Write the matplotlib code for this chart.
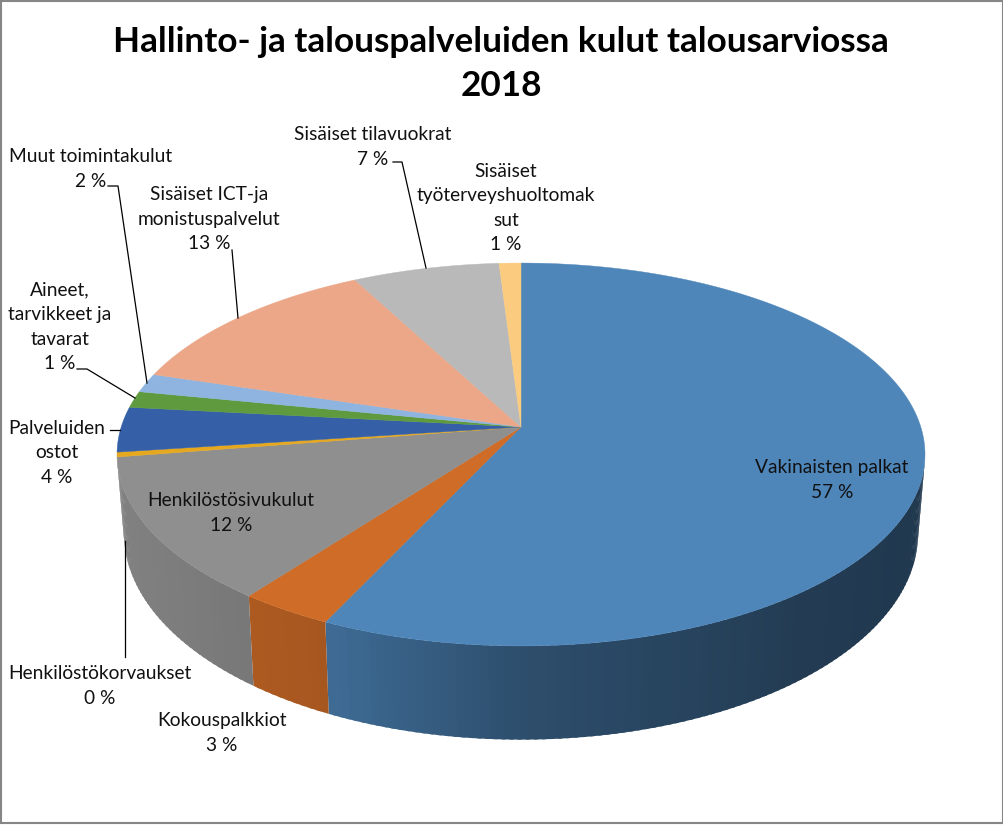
import numpy as np
import matplotlib
matplotlib.use("Agg")
import matplotlib.pyplot as plt
from matplotlib.patches import Polygon, Rectangle

plt.rcParams['font.family'] = ['Lato', 'DejaVu Sans']

categories = ["Vakinaisten palkat", "Kokouspalkkiot", "Henkilöstösivukulut",
              "Henkilöstökorvaukset", "Palveluiden\nostot", "Aineet,\ntarvikkeet ja\ntavarat",
              "Muut toimintakulut", "Sisäiset ICT-ja\nmonistuspalvelut",
              "Sisäiset tilavuokrat", "Sisäiset\ntyöterveyshuoltomak\nsut"]
values = [57.0, 3.3, 12.2, 0.4, 3.8, 1.4, 1.6, 12.55, 6.75, 1.0]
percent_labels = ["57 %", "3 %", "12 %", "0 %", "4 %", "1 %", "2 %", "13 %", "7 %", "1 %"]
colors = ["#4e86ba", "#cf6c27", "#8f8f8f", "#e5a81f", "#3560a8",
          "#5f9a3f", "#8fb4df", "#eca788", "#b9b9b9", "#fbcb80"]

# label centres in picture pixels, same order as categories
label_pos = [(832, 480), (222, 733), (231, 513), (100, 686), (57, 453),
             (60, 327), (91, 169), (209, 219), (373, 147), (506, 208)]

# leader lines
leaders = [
    [(108, 186), (118, 186), (147, 383)],
    [(232, 250), (238, 318)],
    [(77, 369), (87, 369), (135, 398)],
    [(110, 430), (120, 430)],
    [(125, 541), (125, 657)],
    [(393, 162), (402, 162), (426, 268)],
]

# pie geometry, perspective circle seen from above
CX = 521
K = 0.1436
TOP = (399.8, 187.5, 427)   # a, b, apex y
BOTTOM = (392.9, 201.8, 504)


def project(theta, plane):
    a, b, y0 = plane
    u, v = np.sin(theta), np.cos(theta)
    w = 1 + K * v
    return CX + a * u / w, y0 - b * v / w


def shade(col, f):
    rgb = np.array(matplotlib.colors.to_rgb(col))
    return tuple(rgb * f)


def wall_factor(x):
    return np.interp(x, [120, 280, 327, 521, 800, 925], [0.90, 0.82, 0.80, 0.58, 0.45, 0.42])


fig = plt.figure(figsize=(10.04, 8.25), dpi=100)
ax = fig.add_axes([0, 0, 1, 1])
ax.set_xlim(0, 1004)
ax.set_ylim(825, 0)
ax.axis("off")

ax.add_patch(Rectangle((0.5, 0.5), 1002.5, 822.5, fill=False, ec="#868686", lw=1.5))

edges = np.radians(np.concatenate([[0], np.cumsum(values)]) * 3.6)
wall_from, wall_to = np.radians(99), np.radians(261)

# side wall first, each quad runs a little into the next so no seams show
for i, col in enumerate(colors):
    start = max(edges[i], wall_from)
    end = min(edges[i + 1], wall_to)
    if end <= start:
        continue
    steps = max(2, int(np.degrees(end - start)))
    ths = np.linspace(start, end, steps)
    for n, (t0, t1) in enumerate(zip(ths[:-1], ths[1:])):
        t2 = t1 + (t1 - t0) * 0.5 if n < steps - 2 else t1
        x0, y0 = project(t0, TOP)
        x1, y1 = project(t2, TOP)
        x2, y2 = project(t2, BOTTOM)
        x3, y3 = project(t0, BOTTOM)
        c = shade(col, wall_factor((x0 + x1) / 2))
        ax.add_patch(Polygon([(x0, y0), (x1, y1), (x2, y2), (x3, y3)], fc=c, ec="none"))

# top surface
for i, col in enumerate(colors):
    ths = np.linspace(edges[i], edges[i + 1], max(3, int(values[i] * 12)))
    xs, ys = project(ths, TOP)
    pts = [(CX, TOP[2])] + list(zip(xs, ys))
    ax.add_patch(Polygon(pts, fc=col, ec=col, lw=0.3, joinstyle="round"))

for line in leaders:
    ax.plot([p[0] for p in line], [p[1] for p in line], color="#000000", lw=0.9)

for name, pct, (x, y) in zip(categories, percent_labels, label_pos):
    ax.text(x, y, name + "\n" + pct, ha="center", va="center", fontsize=13.8,
            color="#111111", linespacing=1.54)

ax.text(501, 64, "Hallinto- ja talouspalveluiden kulut talousarviossa\n2018", ha="center", va="center",
        fontsize=25.3, fontweight="bold", color="#000000", linespacing=1.48)

fig.savefig("out.png", dpi=100)
